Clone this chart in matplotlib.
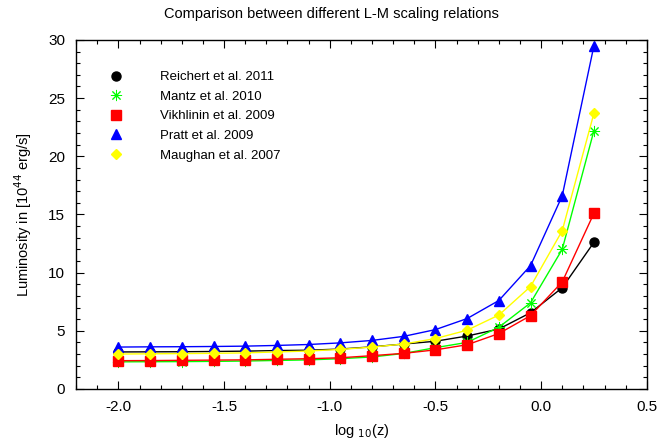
import matplotlib.pyplot as plt
from matplotlib.lines import Line2D
from matplotlib.ticker import MultipleLocator

plt.rcParams['font.family'] = ['Liberation Sans', 'DejaVu Sans']
plt.rcParams['axes.unicode_minus'] = False

# log10(z) sample points
log_z = [-2.0, -1.85, -1.7, -1.55, -1.4, -1.25, -1.1, -0.95, -0.8, -0.65,
         -0.5, -0.35, -0.2, -0.05, 0.1, 0.25]

# Luminosity in 1e44 erg/s for each relation
reichert = [3.18, 3.19, 3.2, 3.22, 3.25, 3.3, 3.33, 3.43, 3.62, 3.86,
            4.1, 4.55, 5.15, 6.55, 8.7, 12.6]
mantz = [2.33, 2.34, 2.35, 2.37, 2.4, 2.45, 2.5, 2.6, 2.75, 3.05,
         3.55, 4.0, 5.3, 7.4, 12.0, 22.2]
vikhlinin = [2.43, 2.44, 2.46, 2.48, 2.5, 2.55, 2.6, 2.68, 2.86, 3.06,
             3.36, 3.8, 4.76, 6.3, 9.2, 15.1]
pratt = [3.6, 3.62, 3.63, 3.65, 3.68, 3.74, 3.82, 3.96, 4.17, 4.52,
         5.1, 6.05, 7.6, 10.6, 16.6, 29.5]
maughan = [3.0, 3.02, 3.04, 3.06, 3.1, 3.18, 3.26, 3.4, 3.6, 3.86,
           4.33, 5.05, 6.35, 8.8, 13.6, 23.7]

labels = ["Reichert et al. 2011", "Mantz et al. 2010", "Vikhlinin et al. 2009",
          "Pratt et al. 2009", "Maughan et al. 2007"]

# data, colour, marker, marker size, marker edge width
series = [
    (reichert, "black", "o", 6.5, 1.0),
    (mantz, "#00ff00", (8, 2, 0), 8, 0.7),
    (vikhlinin, "red", "s", 7, 1.0),
    (pratt, "blue", "^", 6.5, 1.0),
    (maughan, "#ffff00", "D", 4.8, 1.0),
]

fig = plt.figure(figsize=(6.62, 4.43), dpi=100)
ax = fig.add_axes([0.115, 0.122, 0.862, 0.788])

handles = []
for (vals, col, mk, ms, mew), lab in zip(series, labels):
    ax.plot(log_z, vals, color=col, lw=1.0, marker=mk, markersize=ms,
            markerfacecolor=col, markeredgecolor=col, markeredgewidth=mew)
    handles.append(Line2D([], [], linestyle="none", marker=mk, markersize=ms,
                          color=col, markeredgewidth=mew))

ax.set_xlim(-2.2, 0.5)
ax.set_ylim(0, 30)
ax.xaxis.set_major_locator(MultipleLocator(0.5))
ax.xaxis.set_minor_locator(MultipleLocator(0.1))
ax.yaxis.set_major_locator(MultipleLocator(5))
ax.yaxis.set_minor_locator(MultipleLocator(1))
ax.tick_params(which="both", direction="in", top=True, right=True,
               labelsize=11, width=0.8)
ax.tick_params(which="major", length=6, pad=8)
ax.tick_params(which="minor", length=3)
for sp in ax.spines.values():
    sp.set_linewidth(1.0)

ax.set_xlabel("log $_{10}$(z)", fontsize=10.5, labelpad=6)
ax.set_ylabel("Luminosity in [10$^{44}$ erg/s]", fontsize=10.5, labelpad=10)
fig.text(0.5, 0.968, "Comparison between different L-M scaling relations",
         ha="center", va="center", fontsize=10.5)

ax.legend(handles, labels, loc="upper left", bbox_to_anchor=(0.047, 0.911),
          frameon=False, fontsize=9.5, handlelength=2, handletextpad=2.3,
          borderpad=0, borderaxespad=0, labelspacing=0.56)

fig.savefig("out.png", dpi=100)
